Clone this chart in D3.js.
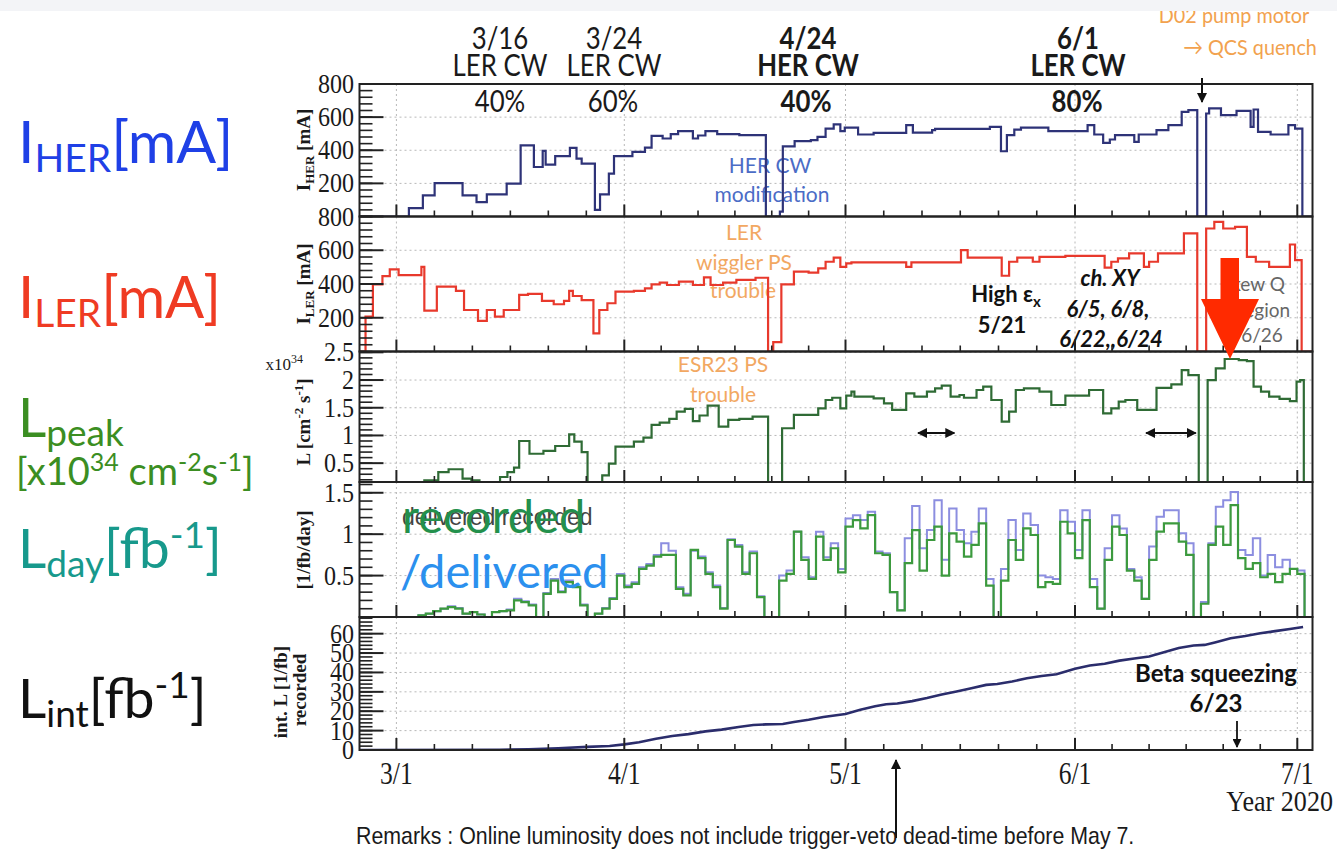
<!DOCTYPE html>
<html><head><meta charset="utf-8">
<script src="https://cdn.jsdelivr.net/npm/d3@7/dist/d3.min.js"></script>
<style>html,body{margin:0;padding:0;background:#fff;overflow:hidden}svg{display:block}</style>
</head><body>
<svg id="chart" width="1337" height="852"></svg>
<script>
// ---- data: days counted from 2020-03-01 (day 0) ----
const monthDays = [0, 31, 61, 92, 122];
const monthLabels = ["3/1", "4/1", "5/1", "6/1", "7/1"];

// HER peak current, step changes [day, mA]
const herSteps = [[-5.02,0],[1.7,50],[3.6,127],[5.2,202],[9.0,127],[10.9,87],[12.3,133],[15.0,198],[16.9,430],[18.7,299],[19.9,396],[20.3,313],[21.6,364],[23.6,414],[24.5,350],[25.2,319],[27.0,40],[27.7,133],[28.9,259],[29.6,364],[32.1,390],[33.8,416],[34.7,487],[36.2,471],[37.3,497],[38.3,515],[40.3,471],[41.0,489],[42.0,515],[43.6,497],[46.6,491],[50.2,0],[52.1,30],[52.5,424],[54.1,455],[56.3,461],[57.2,481],[58.3,531],[59.4,556],[60.3,515],[60.9,537],[62.7,495],[64.8,505],[69.2,552],[70.1,507],[72.7,521],[73.1,529],[80.5,541],[82.0,394],[82.8,491],[83.8,525],[84.7,537],[88.4,515],[93.7,552],[94.6,495],[95.8,444],[96.7,465],[97.4,491],[100.0,451],[100.6,495],[103.0,521],[104.6,552],[106.4,632],[107.3,642],[108.5,0],[109.7,622],[110.1,653],[111.7,612],[113.8,638],[115.7,541],[116.1,646],[116.7,511],[118.4,495],[120.8,552],[121.7,531],[122.7,0],[124.1,0]];

// LER peak current, step changes [day, mA]
const lerSteps = [[-5.02,0],[-4.2,207],[-3.2,398],[-1.9,447],[-0.9,487],[0.3,453],[3.4,502],[3.8,242],[5.5,384],[8.1,359],[9.2,246],[11.1,181],[12.3,246],[13.4,207],[14.6,246],[16.7,335],[17.9,341],[19.8,300],[21.4,280],[22.8,300],[23.5,359],[24.0,329],[25.2,305],[26.8,108],[27.6,246],[28.7,286],[29.8,355],[32.3,359],[33.8,374],[34.7,398],[35.8,408],[36.8,394],[38.4,414],[40.3,394],[41.8,439],[42.7,394],[44.4,408],[46.2,424],[48.8,437],[50.5,0],[51.2,55],[52.3,398],[54.0,473],[56.0,467],[57.3,493],[58.3,532],[59.4,556],[60.3,502],[61.1,522],[61.8,528],[69.2,502],[69.9,528],[76.6,601],[77.5,556],[82.1,449],[83.1,532],[84.2,556],[86.3,532],[87.2,561],[90.7,567],[96.0,497],[96.9,532],[97.8,552],[99.3,581],[101.3,502],[102.0,532],[103.2,581],[106.7,700],[108.5,0],[109.7,729],[110.8,768],[112.0,729],[113.6,739],[115.2,561],[116.4,532],[118.2,502],[121.0,634],[121.7,542],[122.6,0],[124.1,0]];

// Peak luminosity, step changes [day, 1e34 cm^-2 s^-1]
const lpeakSteps = [[-5.02,0],[3.8,0.19],[5.7,0.34],[7.1,0.39],[9.0,0.22],[10.2,0.19],[11.3,0.1],[14.1,0.25],[15.1,0.34],[16.0,0.42],[16.7,0.90],[18.1,0.67],[20.0,0.72],[21.6,0.81],[23.5,1.02],[24.2,0.89],[25.2,0.70],[26.0,0],[28.0,0.28],[28.9,0.49],[29.8,0.80],[32.3,0.89],[33.6,0.96],[34.7,1.19],[35.8,1.23],[37.1,1.30],[38.1,1.43],[39.2,1.48],[40.3,1.26],[41.2,1.36],[42.3,1.54],[43.8,1.16],[45.1,1.28],[46.6,1.30],[48.4,1.34],[50.5,0],[52.4,1.13],[54.0,1.37],[57.3,1.49],[58.3,1.64],[59.2,1.68],[60.3,1.49],[61.1,1.72],[61.8,1.79],[62.2,1.70],[64.8,1.67],[66.2,1.58],[67.3,1.46],[69.2,1.76],[70.3,1.70],[72.0,1.79],[73.1,1.85],[74.0,1.90],[75.2,1.70],[76.4,1.73],[77.0,1.68],[78.7,1.82],[79.6,1.88],[80.7,1.64],[82.1,1.25],[83.1,1.43],[84.0,1.82],[85.1,1.85],[87.2,1.79],[88.8,1.55],[90.7,1.72],[93.9,1.82],[95.8,1.40],[96.9,1.49],[97.9,1.61],[98.8,1.64],[100.4,1.46],[103.0,1.86],[105.0,1.92],[106.4,2.18],[107.3,2.09],[108.7,0],[109.9,2.0],[111.0,2.21],[112.2,2.38],[114.1,2.36],[115.2,2.34],[116.1,1.88],[117.1,1.79],[118.2,1.70],[119.6,1.66],[121.0,1.62],[121.9,1.97],[122.4,2.0],[122.9,0],[124.1,0]];

// Daily integrated luminosity [1/fb/day], one value per day from day 0
const ldayStart = 0;
const ldayRecorded = [
  0,0,0,0.02,0.04,0.07,0.10,0.12,0.10,0.04,
  0.06,0.03,0,0.06,0.07,0.08,0.20,0.18,0.14,0,
  0.28,0.44,0.30,0.42,0.36,0.14,0,0.04,0.10,0.22,
  0.50,0.36,0.40,0.58,0.62,0.73,0.75,0.75,0.34,0.26,
  0.81,0.71,0.52,0.36,0.10,0.93,0.85,0.52,0.77,0.24,
  0,0,0.44,0.52,1.03,0.69,0.46,0.97,0.69,0.83,
  0.54,1.09,1.17,1.07,1.23,0.77,0.75,0.30,0.08,0.65,
  1.05,0.56,0.93,1.09,0.50,1.01,0.91,0.73,0.87,1.13,
  0.38,0,0.44,0.93,0.69,1.07,0.99,0.36,0.42,0.40,
  1.15,1.01,0.71,1.17,0.36,0.10,0.69,1.09,0.99,0.56,
  0.44,0.22,0.69,1.03,1.13,1.13,0.91,0.75,0,0.16,
  0.87,1.09,0.87,1.35,0.71,0.58,0.65,0.48,0.52,0.42,
  0.52,0.58,0.52];
const ldayDelivered = [
  0,0,0,0.02,0.04,0.07,0.10,0.13,0.11,0.04,
  0.06,0.03,0,0.06,0.07,0.09,0.22,0.19,0.15,0,
  0.29,0.46,0.31,0.44,0.37,0.15,0,0.04,0.11,0.23,
  0.52,0.38,0.42,0.60,0.64,0.75,0.89,0.80,0.36,0.28,
  0.80,0.73,0.54,0.38,0.11,0.94,0.87,0.54,0.79,0.25,
  0,0,0.50,0.56,1.03,0.72,0.48,1.03,0.72,0.89,
  0.58,1.19,1.23,1.17,1.27,0.79,0.77,0.30,0.08,0.95,
  1.34,0.83,1.05,1.41,0.69,1.31,1.05,0.89,1.03,1.31,
  0.46,0,0.58,1.17,0.81,1.25,1.11,0.50,0.48,0.46,
  1.29,1.15,0.81,1.29,0.46,0.10,0.83,1.23,1.07,0.58,
  0.48,0.22,0.85,1.21,1.29,1.29,1.01,0.89,0,0.18,
  0.89,1.33,1.41,1.51,0.81,0.75,0.95,0.50,0.75,0.60,
  0.69,0.58,0.56];

// Integrated recorded luminosity [1/fb]
const lintPoints = [[-5.02,0],[14,0.1],[18,0.4],[22,0.9],[26,1.6],[29,2.1],[31,2.9],[33,4.0],[35.3,5.8],[37.5,7.2],[39.7,8.2],[42,9.6],[44.2,10.5],[46.5,11.9],[48.5,12.9],[50.2,13.2],[52.5,13.4],[54,14.4],[56,15.6],[58,17.0],[61,18.6],[63,20.8],[65,22.6],[66.5,23.6],[68,24.0],[70,25.2],[72,26.8],[74,28.6],[76,30.2],[78,31.9],[80,33.6],[81.5,34.0],[83.5,35.3],[85.5,37.0],[87.5,38.2],[89.5,39.1],[92,41.9],[94,43.6],[96,44.5],[98,46.1],[100,47.2],[102,48.2],[104,50.4],[106,52.6],[108,53.9],[109.5,54.2],[111,55.6],[113,57.6],[115,58.8],[117,60.2],[119,61.3],[121,62.4],[122.8,63.4]];

// periods marked with double arrows in the luminosity panel [day from, day to]
const markedPeriods = [[70.8, 75.7], [101.6, 108.3]];

// axis tick labels
const herTicks = [800, 600, 400, 200];
const lerTicks = [800, 600, 400, 200];
const lpeakTicks = [2.5, 2, 1.5, 1, 0.5];
const ldayTicks = [1.5, 1, 0.5];
const lintTicks = [60, 50, 40, 30, 20, 10, 0];

// ---- drawing ----
const W = 1337, H = 852;
const SERIF = "'Liberation Serif','Times New Roman',serif";
const SANS = "Lato,'Open Sans',sans-serif";
const svg = d3.select("#chart");
svg.append("rect").attr("width", W).attr("height", H).attr("fill", "#fff");

const plotL = 359.5, plotR = 1312.5;
const x = d3.scaleLinear()
  .domain([-5.02, 0, 31, 61, 92, 122, 124.1])
  .range([plotL, 396.4, 624.3, 845.5, 1075.0, 1297.3, plotR]);

function txt(g, px, py, s, o = {}) {
  let tf = `translate(${px},${py})`;
  if (o.rot) tf += ` rotate(${o.rot})`;
  if (o.sx) tf += ` scale(${o.sx},1)`;
  const t = g.append("text").attr("transform", tf)
    .attr("text-anchor", o.anchor || "middle")
    .attr("font-family", o.family || SANS)
    .attr("font-size", o.size || 20)
    .attr("font-weight", o.weight || "normal")
    .attr("font-style", o.style || "normal")
    .attr("fill", o.fill || "#111");
  if (Array.isArray(s)) {
    let cur = 0;
    s.forEach(p => {
      const part = typeof p === "string" ? {t: p} : p;
      const sh = part.dy || 0;
      const ts = t.append("tspan").text(part.t).attr("dy", sh - cur);
      if (part.size) ts.attr("font-size", part.size);
      cur = sh;
    });
  } else t.text(s);
  return t;
}

const panels = [
  {id: "her", top: 84, bottom: 216.5, domain: [0, 800], ticks: herTicks, grid: [200, 400, 600], minor: d3.range(0, 801, 40)},
  {id: "ler", top: 216.5, bottom: 351.5, domain: [0, 800], ticks: lerTicks, grid: [200, 400, 600], minor: d3.range(0, 801, 40)},
  {id: "lpeak", top: 351.5, bottom: 482, domain: [0.16, 2.515], ticks: lpeakTicks, grid: [0.5, 1, 1.5, 2, 2.5], minor: d3.range(2, 26).map(v => v / 10)},
  {id: "lday", top: 482, bottom: 617, domain: [0, 1.63], ticks: ldayTicks, grid: [0.5, 1, 1.5], minor: d3.range(1, 17).map(v => v / 10)},
  {id: "lint", top: 617, bottom: 750, domain: [0, 68.6], ticks: lintTicks, grid: [10, 20, 30, 40, 50, 60], minor: d3.range(0, 69, 2)}
];
panels.forEach(p => {
  p.y = d3.scaleLinear().domain(p.domain).range([p.bottom, p.top]);
});
const P = Object.fromEntries(panels.map(p => [p.id, p]));

const defs = svg.append("defs");
panels.forEach(p => {
  defs.append("clipPath").attr("id", "clip-" + p.id)
    .append("rect").attr("x", plotL).attr("y", p.top - 1).attr("width", plotR - plotL).attr("height", p.bottom - p.top + 1.5);
});
defs.append("marker").attr("id", "arr").attr("viewBox", "0 0 10 10").attr("refX", 9).attr("refY", 5)
  .attr("markerWidth", 5).attr("markerHeight", 5).attr("orient", "auto-start-reverse")
  .append("path").attr("d", "M0,0 L10,5 L0,10 z").attr("fill", "#111");

// grids
const gridG = svg.append("g");
panels.forEach(p => {
  gridG.selectAll(null).data(p.grid).join("line")
    .attr("x1", plotL).attr("x2", plotR).attr("y1", d => p.y(d)).attr("y2", d => p.y(d))
    .attr("stroke", "#b8b8b8").attr("stroke-width", 1).attr("stroke-dasharray", "2,3");
  gridG.selectAll(null).data(monthDays).join("line")
    .attr("x1", d => x(d)).attr("x2", d => x(d)).attr("y1", p.top).attr("y2", p.bottom)
    .attr("stroke", "#b8b8b8").attr("stroke-width", 1).attr("stroke-dasharray", "2,3");
});

// annotations that sit beneath the curves
const under = svg.append("g");
txt(under, 770, 173, "HER CW", {size: 21, fill: "#4b6cc6"});
txt(under, 772, 202, "modification", {size: 21, fill: "#4b6cc6"});
txt(under, 744, 240, "LER", {size: 21, fill: "#f2a862"});
txt(under, 744, 270, "wiggler PS", {size: 21, fill: "#f2a862"});
txt(under, 743, 298, "trouble", {size: 21, fill: "#f2a862"});
txt(under, 723, 372, "ESR23 PS", {size: 21, fill: "#f2a862"});
txt(under, 723, 402, "trouble", {size: 21, fill: "#f2a862"});
txt(under, 1006, 302, [{t: "High ε"}, {t: "x", size: 15, dy: 5}], {size: 22, weight: "bold"});
txt(under, 1002, 333, "5/21", {size: 22, weight: "bold"});
txt(under, 1110, 286, "ch. XY", {size: 22, weight: "bold", style: "italic"});
txt(under, 1108, 317, "6/5, 6/8,", {size: 22, weight: "bold", style: "italic"});
txt(under, 1111, 347, "6/22,,6/24", {size: 22, weight: "bold", style: "italic"});
txt(under, 1253, 291, "Skew Q", {size: 19, fill: "#666"});
txt(under, 1264, 317, "region", {size: 19, fill: "#666"});
txt(under, 1262, 342, "6/26", {size: 19, fill: "#666"});
txt(under, 402, 525, "delivered recorded", {size: 23, anchor: "start", fill: "#444", family: "'Liberation Sans',Arial,sans-serif"});
txt(under, 1216, 682, "Beta squeezing", {size: 24, weight: "bold"});
txt(under, 1216, 712, "6/23", {size: 24, weight: "bold"});

// curves
const stepLine = (p) => d3.line().x(d => x(d[0])).y(d => p.y(d[1])).curve(d3.curveStepAfter);
function histPoints(vals, start) {
  const pts = [[x.domain()[0], 0]];
  vals.forEach((v, i) => pts.push([start + i, v]));
  pts.push([start + vals.length, 0]);
  pts.push([x.domain()[x.domain().length - 1], 0]);
  return pts;
}
const curves = svg.append("g").attr("fill", "none").attr("stroke-linejoin", "miter");
curves.append("path").attr("clip-path", "url(#clip-her)").datum(herSteps)
  .attr("d", stepLine(P.her)).attr("stroke", "#2e3378").attr("stroke-width", 2.2);
curves.append("path").attr("clip-path", "url(#clip-ler)").datum(lerSteps)
  .attr("d", stepLine(P.ler)).attr("stroke", "#e8392c").attr("stroke-width", 2.2);
curves.append("path").attr("clip-path", "url(#clip-lpeak)").datum(lpeakSteps)
  .attr("d", stepLine(P.lpeak)).attr("stroke", "#2f6b35").attr("stroke-width", 2.2);
curves.append("path").attr("clip-path", "url(#clip-lday)").datum(histPoints(ldayDelivered, ldayStart))
  .attr("d", stepLine(P.lday)).attr("stroke", "#8c8ee0").attr("stroke-width", 2);
curves.append("path").attr("clip-path", "url(#clip-lday)").datum(histPoints(ldayRecorded, ldayStart))
  .attr("d", stepLine(P.lday)).attr("stroke", "#3c9a3e").attr("stroke-width", 2.2);
curves.append("path").attr("clip-path", "url(#clip-lint)").datum(lintPoints)
  .attr("d", d3.line().x(d => x(d[0])).y(d => P.lint.y(d[1]))).attr("stroke", "#2b2d6c").attr("stroke-width", 2.6);

// frames, ticks and tick labels
const axG = svg.append("g");
const minorX = [];
for (let i = 0; i < monthDays.length - 1; i++) {
  const a = monthDays[i], b = monthDays[i + 1];
  for (let k = 1; k < 6; k++) minorX.push(a + (b - a) * k / 6);
}
panels.forEach(p => {
  axG.append("rect").attr("x", plotL).attr("y", p.top).attr("width", plotR - plotL).attr("height", p.bottom - p.top)
    .attr("fill", "none").attr("stroke", "#222").attr("stroke-width", 2);
  axG.selectAll(null).data(p.minor.filter(v => v >= p.domain[0] && v <= p.domain[1])).join("line")
    .attr("x1", plotL).attr("x2", plotL + 13).attr("y1", d => p.y(d)).attr("y2", d => p.y(d))
    .attr("stroke", "#222").attr("stroke-width", 1.6);
  axG.selectAll(null).data(p.ticks).join("line")
    .attr("x1", plotL).attr("x2", plotL + 24).attr("y1", d => p.y(d)).attr("y2", d => p.y(d))
    .attr("stroke", "#222").attr("stroke-width", 2);
  p.ticks.forEach(v => {
    txt(axG, 354, p.y(v) + 9, String(v), {size: 28, family: SERIF, anchor: "end", sx: 0.86, fill: "#1a1a1a"});
  });
  axG.selectAll(null).data(monthDays).join("line")
    .attr("x1", d => x(d)).attr("x2", d => x(d)).attr("y1", p.bottom).attr("y2", p.bottom - 12)
    .attr("stroke", "#222").attr("stroke-width", 2);
  axG.selectAll(null).data(minorX).join("line")
    .attr("x1", d => x(d)).attr("x2", d => x(d)).attr("y1", p.bottom).attr("y2", p.bottom - 6)
    .attr("stroke", "#222").attr("stroke-width", 1.6);
});
monthDays.forEach((d, i) => {
  txt(axG, x(d), 784, monthLabels[i], {size: 32, family: SERIF, sx: 0.8, fill: "#1a1a1a"});
});
txt(axG, 1333, 811, "Year 2020", {size: 29, family: SERIF, anchor: "end", sx: 0.9, fill: "#1a1a1a"});

// y-axis titles
const ttl = {family: SERIF, size: 19, weight: "bold", rot: -90, fill: "#1a1a1a"};
txt(axG, 310, 150, [{t: "I"}, {t: "HER", size: 13, dy: 4}, {t: " [mA]"}], ttl);
txt(axG, 310, 284, [{t: "I"}, {t: "LER", size: 13, dy: 4}, {t: " [mA]"}], ttl);
txt(axG, 310, 422, [{t: "L [cm"}, {t: "-2", size: 13, dy: -7}, {t: " s"}, {t: "-1", size: 13, dy: -7}, {t: "]"}], ttl);
txt(axG, 310, 550, "[1/fb/day]", ttl);
txt(axG, 287, 692, "int. L [1/fb]", ttl);
txt(axG, 306, 690, "recorded", ttl);
txt(axG, 303, 370, [{t: "x10"}, {t: "34", size: 12, dy: -7}], {family: SERIF, size: 17, anchor: "end", fill: "#1a1a1a"});

// headline annotations
const headG = svg.append("g");
const hd = (px, py, s, bold) => txt(headG, px, py, s, {size: 30, weight: bold ? "bold" : "normal", sx: 0.86, fill: "#1a1a1a"});
hd(500, 49, "3/16"); hd(500, 76, "LER CW"); hd(500, 112, "40%");
hd(614, 49, "3/24"); hd(614, 76, "LER CW"); hd(613, 112, "60%");
hd(808, 49, "4/24", true); hd(808, 76, "HER CW", true); hd(806, 112, "40%", true);
hd(1078, 49, "6/1", true); hd(1078, 76, "LER CW", true); hd(1077, 112, "80%", true);
txt(headG, 1234, 23, "D02 pump motor", {size: 22, fill: "#f2a24e", sx: 0.9});
txt(headG, 1250, 55, "→ QCS quench", {size: 22, fill: "#f2a24e", sx: 0.9});
headG.append("line").attr("x1", 1202).attr("x2", 1202).attr("y1", 78).attr("y2", 102)
  .attr("stroke", "#111").attr("stroke-width", 2).attr("marker-end", "url(#arr)");
// light band along the top edge
svg.append("rect").attr("x", 0).attr("y", 0).attr("width", W).attr("height", 11).attr("fill", "#f3f4f7");

// overlay annotations
const over = svg.append("g");
txt(over, 402, 533, "recorded", {size: 47, fill: "#23904c", anchor: "start"});
txt(over, 400, 588, "/delivered", {size: 47, fill: "#2b90ee", anchor: "start"});
markedPeriods.forEach(([a, b]) => {
  over.append("line").attr("x1", x(a)).attr("x2", x(b)).attr("y1", 433).attr("y2", 433)
    .attr("stroke", "#111").attr("stroke-width", 2)
    .attr("marker-start", "url(#arr)").attr("marker-end", "url(#arr)");
});
over.append("line").attr("x1", 1237).attr("x2", 1237).attr("y1", 721).attr("y2", 747)
  .attr("stroke", "#111").attr("stroke-width", 1.8).attr("marker-end", "url(#arr)");
over.append("line").attr("x1", 896).attr("x2", 896).attr("y1", 838).attr("y2", 760)
  .attr("stroke", "#111").attr("stroke-width", 2).attr("marker-end", "url(#arr)");
over.append("path")
  .attr("d", "M1220.5,258 L1239,258 L1239,299 L1259,299 L1230,359 L1201,299 L1220.5,299 Z")
  .attr("fill", "#ff2a00");

// left-hand legend labels
const leg = svg.append("g");
txt(leg, 18, 163, [{t: "I"}, {t: "HER", size: 39, dy: 9}, {t: "[mA]"}], {size: 59, anchor: "start", fill: "#1f40e6"});
txt(leg, 18, 318, [{t: "I"}, {t: "LER", size: 39, dy: 9}, {t: "[mA]"}], {size: 58, anchor: "start", fill: "#ef3b23"});
txt(leg, 18, 437, [{t: "L"}, {t: "peak", size: 37, dy: 9}], {size: 55, anchor: "start", fill: "#3b8e22"});
txt(leg, 16, 485, [{t: "[x10"}, {t: "34", size: 25, dy: -14}, {t: " cm"}, {t: "-2", size: 25, dy: -14}, {t: "s"}, {t: "-1", size: 25, dy: -14}, {t: "]"}], {size: 38, anchor: "start", fill: "#3b8e22"});
txt(leg, 18, 568, [{t: "L"}, {t: "day", size: 37, dy: 9}, {t: "[fb"}, {t: "-1", size: 37, dy: -20}, {t: "]"}], {size: 55, anchor: "start", fill: "#17998c"});
txt(leg, 18, 718, [{t: "L"}, {t: "int", size: 37, dy: 9}, {t: "[fb"}, {t: "-1", size: 37, dy: -20}, {t: "]"}], {size: 55, anchor: "start", fill: "#111"});

// footnote
txt(svg, 356, 844, "Remarks : Online luminosity does not include trigger-veto dead-time before May 7.",
  {size: 24, anchor: "start", family: "'Liberation Sans',Arial,sans-serif", sx: 0.89, fill: "#1a1a1a"});
</script>
</body></html>
